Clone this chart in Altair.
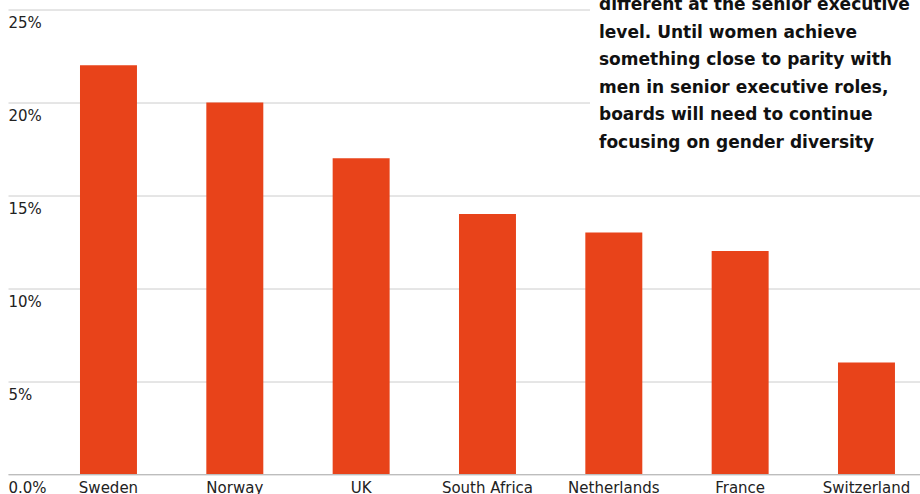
import altair as alt
import pandas as pd

# ---- data -------------------------------------------------------------
countries = ["Sweden", "Norway", "UK", "South Africa", "Netherlands", "France", "Switzerland"]
values = [22, 20, 17, 14, 13, 12, 6]  # percent

y_ticks = [0, 5, 10, 15, 20, 25]
y_tick_labels = ["0.0%", "5%", "10%", "15%", "20%", "25%"]

annotation_lines = [
    "different at the senior executive",
    "level. Until women achieve",
    "something close to parity with",
    "men in senior executive roles,",
    "boards will need to continue",
    "focusing on gender diversity",
]

df = pd.DataFrame({"country": countries, "value": values})

label_expr = " : ".join(
    f"datum.value == {v} ? '{l}'" for v, l in zip(y_ticks, y_tick_labels)
) + " : ''"

W, H = 912, 464.5
BAR_COLOR = "#E8431A"
FONT = "DejaVu Sans"

x_enc = alt.X(
    "country:N",
    sort=None,
    scale=alt.Scale(paddingInner=0.549, paddingOuter=0.384, align=0.742),
    axis=alt.Axis(
        title=None,
        labelAngle=0,
        ticks=False,
        domain=True,
        domainColor="#bdbdbd",
        domainWidth=1,
        labelPadding=6,
        labelFont=FONT,
        labelFontSize=15,
        labelColor="#222222",
        grid=False,
    ),
)

y_enc = alt.Y(
    "value:Q",
    scale=alt.Scale(domain=[0, 25], nice=False),
    axis=alt.Axis(
        title=None,
        values=y_ticks,
        labelExpr=label_expr,
        ticks=False,
        tickSize=0,
        domain=False,
        grid=True,
        gridColor="#cccccc",
        gridWidth=1,
        labelAlign="left",
        labelBaseline="alphabetic",
        labelPadding=0,
        labelOffset=18,
        labelFont=FONT,
        labelFontSize=15,
        labelColor="#222222",
        labelOverlap=False,
    ),
)

bars = alt.Chart(df).mark_bar(color=BAR_COLOR).encode(x=x_enc, y=y_enc)

note_df = pd.DataFrame({"t": ["\n".join(annotation_lines)]})

box = alt.Chart(note_df).mark_rect(color="white").encode(
    x=alt.value(582), x2=alt.value(W), y=alt.value(-20), y2=alt.value(162)
)

note = alt.Chart(note_df).mark_text(
    align="left",
    baseline="alphabetic",
    lineBreak="\n",
    lineHeight=27.5,
    font="DejaVu Sans",
    fontSize=17,
    fontWeight="bold",
    color="#111111",
).encode(text="t:N", x=alt.value(591), y=alt.value(0.5))

chart = (
    alt.layer(bars, box, note)
    .properties(
        width=W,
        height=H,
        autosize=alt.AutoSizeParams(type="none"),
        padding={"left": 8, "top": 9.5, "right": 0, "bottom": 20},
        background="white",
    )
    .configure_view(stroke=None)
)

chart.save("out.html", embed_options={"renderer": "svg", "actions": False})
